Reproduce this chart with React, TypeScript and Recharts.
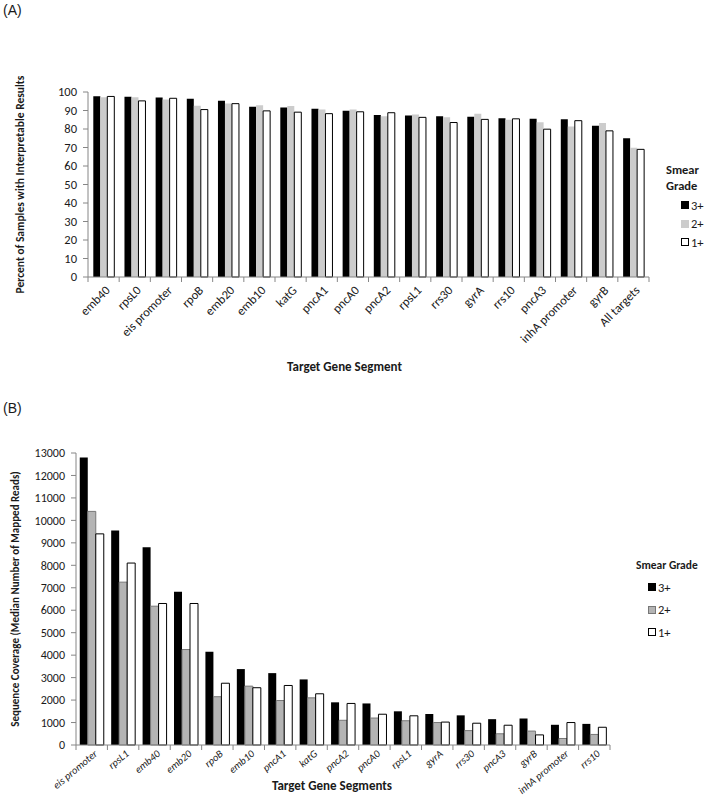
import React from 'react';
import { BarChart, Bar, XAxis, YAxis, Legend } from 'recharts';

const FONT = "Carlito, Calibri, Lato, 'Noto Sans', sans-serif";
const TEXT = '#1a1a1a';
const AXIS = '#868686';

// ---------- Panel A data ----------
const segmentsA = [
  'emb40', 'rpsL0', 'eis promoter', 'rpoB', 'emb20', 'emb10', 'katG', 'pncA1', 'pncA0',
  'pncA2', 'rpsL1', 'rrs30', 'gyrA', 'rrs10', 'pncA3', 'inhA promoter', 'gyrB', 'All targets',
];
const pctGrade3 = [97.7, 97.4, 97.0, 96.3, 95.3, 92.0, 91.6, 90.9, 89.8, 87.6, 87.3, 86.9, 86.6, 85.8, 85.5, 85.3, 81.8, 75.0];
const pctGrade2 = [97.2, 97.1, 96.0, 92.6, 93.8, 92.8, 92.5, 90.6, 90.6, 86.9, 87.8, 86.3, 88.2, 85.0, 83.7, 81.3, 83.2, 69.9];
const pctGrade1 = [97.6, 95.2, 96.6, 90.5, 93.7, 89.8, 89.1, 88.3, 89.3, 88.8, 86.3, 83.5, 85.2, 85.5, 79.9, 84.5, 79.0, 69.0];
const pctTicks = [0, 10, 20, 30, 40, 50, 60, 70, 80, 90, 100];

// ---------- Panel B data ----------
const segmentsB = [
  'eis promoter', 'rpsL1', 'emb40', 'emb20', 'rpoB', 'emb10', 'pncA1', 'katG', 'pncA2',
  'pncA0', 'rpsL1', 'gyrA', 'rrs30', 'pncA3', 'gyrB', 'inhA promoter', 'rrs10',
];
const readsGrade3 = [12800, 9550, 8800, 6820, 4150, 3380, 3200, 2920, 1900, 1850, 1500, 1380, 1320, 1150, 1180, 900, 940];
const readsGrade2 = [10400, 7250, 6180, 4250, 2150, 2620, 1980, 2100, 1100, 1200, 1080, 1000, 640, 500, 620, 290, 470];
const readsGrade1 = [9400, 8100, 6300, 6300, 2750, 2550, 2650, 2280, 1850, 1370, 1300, 1020, 970, 880, 450, 1000, 790];
const readsTicks = [0, 1000, 2000, 3000, 4000, 5000, 6000, 7000, 8000, 9000, 10000, 11000, 12000, 13000];

const gradeNames = ['3+', '2+', '1+'];
const gradeKeys = ['g3', 'g2', 'g1'];

const dataA = segmentsA.map((name, i) => ({ name, g3: pctGrade3[i], g2: pctGrade2[i], g1: pctGrade1[i] }));
const dataB = segmentsB.map((name, i) => ({ name, g3: readsGrade3[i], g2: readsGrade2[i], g1: readsGrade1[i] }));

type Swatch = { fill: string; stroke: string };
const swatchA: Swatch[] = [
  { fill: '#000000', stroke: 'none' },
  { fill: '#cccccc', stroke: 'none' },
  { fill: '#ffffff', stroke: '#000000' },
];
const swatchB: Swatch[] = [
  { fill: '#000000', stroke: 'none' },
  { fill: '#b4b4b4', stroke: '#777777' },
  { fill: '#ffffff', stroke: '#000000' },
];

// ---------- layout ----------
const W = 704;
const A = { h: 385, top: 92, axisY: 277, left: 10, yw: 78, right: 55, xh: 70 };
const B = { top0: 380, h: 420, axisY: 745, top: 73, left: 10, yw: 66, right: 94, xh: 55 };
const bandA = (W - A.left - A.yw - A.right) / segmentsA.length;
const bandB = (W - B.left - B.yw - B.right) / segmentsB.length;

function makeTick(band: number, count: number, italic: boolean, fontSize: number, dy: number, angle: number) {
  return function CategoryTick(props: any) {
    const { x, y, payload, index } = props;
    const half = band / 2;
    const label = payload ? payload.value : '';
    return (
      <g>
        <line x1={x - half} y1={y} x2={x - half} y2={y + 5} stroke={AXIS} strokeWidth={1} />
        {index === count - 1 && (
          <line x1={x + half} y1={y} x2={x + half} y2={y + 5} stroke={AXIS} strokeWidth={1} />
        )}
        <text
          transform={`translate(${x + 4},${y + dy}) rotate(${angle})`}
          textAnchor="end"
          dy="0.35em"
          fontSize={fontSize}
          fontFamily={FONT}
          fontStyle={italic ? 'italic' : 'normal'}
          fill={TEXT}
        >
          {label}
        </text>
      </g>
    );
  };
}

function makeLegend(swatches: Swatch[], twoLine: boolean, itemH: number, indent: number, gapAfterTitle: number, titleSize: number) {
  return function LegendContent(props: any) {
    const payload = [...(props.payload || [])].sort(
      (a: any, b: any) => gradeNames.indexOf(a.value) - gradeNames.indexOf(b.value),
    );
    return (
      <div style={{ fontFamily: FONT, color: TEXT }}>
        <div style={{ fontWeight: 'bold', fontSize: titleSize, lineHeight: '16px', whiteSpace: 'nowrap', marginBottom: gapAfterTitle }}>
          {twoLine ? (<>Smear<br />Grade</>) : 'Smear Grade'}
        </div>
        {payload.map((entry: any) => {
          const sw = swatches[Math.max(0, gradeNames.indexOf(entry.value))];
          return (
            <div key={entry.value} style={{ display: 'flex', alignItems: 'center', height: itemH, paddingLeft: indent, fontSize: 12.5 }}>
              <svg width={8} height={8} style={{ marginRight: 2 }}>
                <rect x={0.5} y={0.5} width={7} height={7} fill={sw.fill}
                  stroke={sw.stroke === 'none' ? sw.fill : sw.stroke} />
              </svg>
              <span>{entry.value}</span>
            </div>
          );
        })}
      </div>
    );
  };
}

function yTitle(text: string, dxFromBox: number, fontSize: number) {
  return function YTitle(props: any) {
    const vb = props.viewBox || { x: 0, y: 0, width: 0, height: 0 };
    const cx = vb.x + dxFromBox;
    const cy = vb.y + vb.height / 2;
    return (
      <text x={cx} y={cy} transform={`rotate(-90 ${cx} ${cy})`} textAnchor="middle" dominantBaseline="central"
        fontFamily={FONT} fontWeight="bold" fontSize={fontSize} fill={TEXT}>
        {text}
      </text>
    );
  };
}

function xTitle(text: string, dx: number, dy: number) {
  return function XTitle(props: any) {
    const vb = props.viewBox || { x: 0, y: 0, width: 0, height: 0 };
    const cx = vb.x + vb.width / 2 + dx;
    const cy = vb.y + dy;
    return (
      <text x={cx} y={cy} textAnchor="middle" dominantBaseline="central"
        fontFamily={FONT} fontWeight="bold" fontSize={13} fill={TEXT}>
        {text}
      </text>
    );
  };
}

const panelLabel: React.CSSProperties = {
  position: 'absolute', left: 3, fontFamily: "'Liberation Sans', Arial, sans-serif",
  fontSize: 14, lineHeight: '18px', color: TEXT,
};

export default function App() {
  return (
    <div style={{ position: 'absolute', left: 0, top: 0, width: W, height: 800, background: '#ffffff', overflow: 'hidden' }}>
      <div style={{ ...panelLabel, top: 1 }}>(A)</div>
      <div style={{ ...panelLabel, top: 399 }}>(B)</div>

      <div style={{ position: 'absolute', left: 0, top: 0 }}>
        <BarChart width={W} height={A.h} data={dataA}
          margin={{ top: A.top, right: A.right, bottom: A.h - A.axisY - A.xh, left: A.left }}
          barCategoryGap="17%" barGap={0}>
          <XAxis dataKey="name" interval={0} height={A.xh} axisLine={{ stroke: AXIS }} tickLine={false}
            tickSize={0} tickMargin={0} tick={makeTick(bandA, segmentsA.length, false, 12.5, 11, -45)}
            label={xTitle('Target Gene Segment', -24, 89)} />
          <YAxis domain={[0, 100]} ticks={pctTicks} interval={0} width={A.yw} axisLine={{ stroke: AXIS }}
            tickLine={{ stroke: AXIS }} tickSize={5} tickMargin={6}
            tick={{ fill: TEXT, fontSize: 12.5, fontFamily: FONT }}
            label={yTitle('Percent of Samples with Interpretable Results', 10, 11.5)} />
          {gradeKeys.map((k, i) => (
            <Bar key={k} dataKey={k} name={gradeNames[i]} fill={swatchA[i].fill}
              stroke={swatchA[i].stroke} strokeWidth={1} isAnimationActive={false} />
          ))}
          <Legend layout="horizontal" align="center" verticalAlign="middle"
            wrapperStyle={{ left: 666, top: 162, width: 38, height: 'auto' }}
            content={makeLegend(swatchA, true, 18.5, 15, 2, 12.5)} />
        </BarChart>
      </div>

      <div style={{ position: 'absolute', left: 0, top: B.top0 }}>
        <BarChart width={W} height={B.h} data={dataB}
          margin={{ top: B.top, right: B.right, bottom: B.h - (B.axisY - B.top0) - B.xh, left: B.left }}
          barCategoryGap="12%" barGap={0}>
          <XAxis dataKey="name" interval={0} height={B.xh} axisLine={{ stroke: AXIS }} tickLine={false}
            tickSize={0} tickMargin={0} tick={makeTick(bandB, segmentsB.length, true, 10.5, 7, -40)}
            allowDuplicatedCategory={true}
            label={xTitle('Target Gene Segments', -11, 40)} />
          <YAxis domain={[0, 13000]} ticks={readsTicks} interval={0} width={B.yw} axisLine={{ stroke: AXIS }}
            tickLine={{ stroke: AXIS }} tickSize={5} tickMargin={6}
            tick={{ fill: TEXT, fontSize: 12, fontFamily: FONT }}
            label={yTitle('Sequence Coverage (Median Number of Mapped Reads)', 5, 11)} />
          {gradeKeys.map((k, i) => (
            <Bar key={k} dataKey={k} name={gradeNames[i]} fill={swatchB[i].fill}
              stroke={swatchB[i].stroke} strokeWidth={1} isAnimationActive={false} />
          ))}
          <Legend layout="horizontal" align="center" verticalAlign="middle"
            wrapperStyle={{ left: 636, top: 557 - B.top0, width: 66, height: 'auto' }}
            content={makeLegend(swatchB, false, 22.5, 12, 3, 11.5)} />
        </BarChart>
      </div>
    </div>
  );
}
